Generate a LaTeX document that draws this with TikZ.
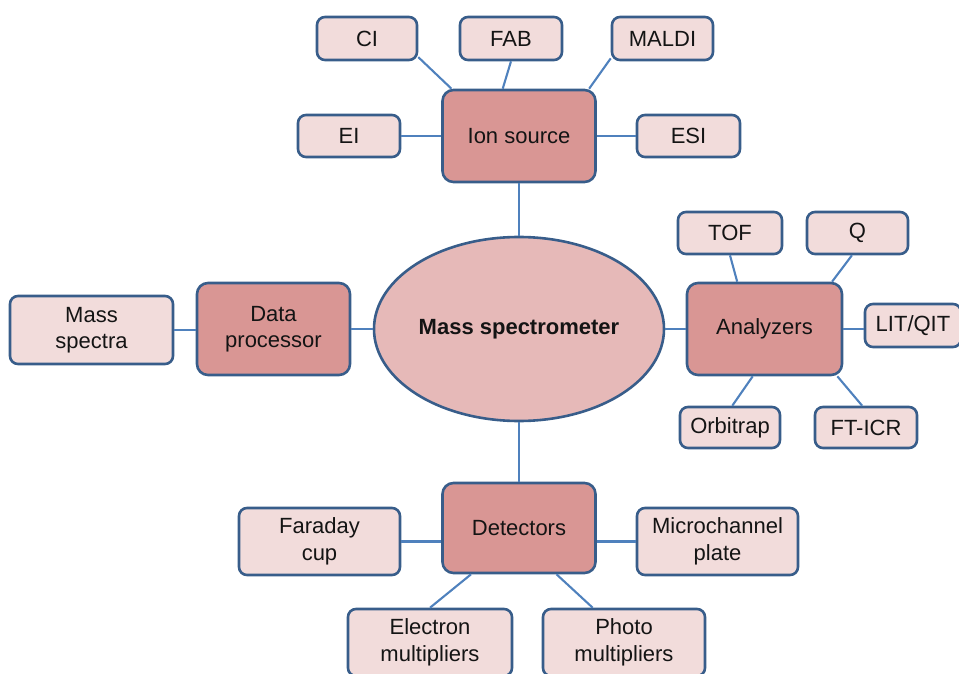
\documentclass[tikz,border=0pt]{standalone}
\usepackage{fontspec}
\setmainfont{Liberation Sans}
\usetikzlibrary{shapes.geometric}
\definecolor{leafpink}{HTML}{F2DCDB}
\definecolor{hubrose}{HTML}{D99694}
\definecolor{corepink}{HTML}{E6B9B8}
\definecolor{rim}{HTML}{385D8A}
\definecolor{wire}{HTML}{4F81BD}
\definecolor{ink}{HTML}{141414}
\tikzset{
  base/.style={draw=rim, line width=2.6pt, text=ink, align=center, inner sep=0pt,
    font=\fontsize{22}{26.5}\selectfont},
  leaf/.style={base, fill=leafpink, rounded corners=8pt},
  hub/.style={base, fill=hubrose, rounded corners=11pt, minimum width=153pt, minimum height=92pt},
  core/.style={base, ellipse, fill=corepink, minimum width=290pt, minimum height=184pt,
    font=\fontsize{22}{26.5}\selectfont\bfseries},
  link/.style={draw=wire, line width=2.1pt},
}
\newcommand{\leafbox}[5]{\node[leaf, minimum width=#3pt, minimum height=#4pt] (#1) at #2 {#5};}
\begin{document}
\begin{tikzpicture}[x=1pt, y=-1pt]
  \useasboundingbox (0,0) rectangle (959,674);
  \clip (0,0) rectangle (959,674);

  % centre
  \node[core] (ms) at (519,329) {Mass spectrometer};

  % hubs
  \node[hub] (ion)  at (519,136)   {Ion source};
  \node[hub] (data) at (273.5,329) {Data\\processor};
  \node[hub, minimum width=155pt] (anal) at (764.5,329) {Analyzers};
  \node[hub, minimum height=90pt] (det)  at (519,528)   {Detectors};

  % ion sources
  \leafbox{ci}{(367,38.5)}{100}{43}{CI}
  \leafbox{fab}{(511,38.5)}{102}{43}{FAB}
  \leafbox{maldi}{(662.5,38.5)}{101}{43}{MALDI}
  \leafbox{ei}{(349,136)}{102}{42}{EI}
  \leafbox{esi}{(688.5,136)}{103}{42}{ESI}

  % output
  \leafbox{spectra}{(91.5,330)}{163}{68}{Mass\\spectra}

  % analyzers
  \leafbox{tof}{(730,233)}{104}{42}{TOF}
  \leafbox{quad}{(857.5,233)}{101}{42}{Q}
  \leafbox{lit}{(913,325.5)}{96}{43}{LIT/QIT}
  \leafbox{orbi}{(730,427.5)}{100}{41}{Orbitrap}
  \leafbox{fticr}{(866,427.5)}{102}{41}{FT-ICR}

  % detectors
  \leafbox{faraday}{(319.5,541.5)}{161}{67}{Faraday\\cup}
  \leafbox{micro}{(717.5,541.5)}{161}{67}{Microchannel\\plate}
  \leafbox{electron}{(430,642.5)}{164}{67}{Electron\\multipliers}
  \leafbox{photo}{(624,642.5)}{162}{67}{Photo\\multipliers}

  % connectors: ion source
  \draw[link] (ci.-20) -- (ion.145);
  \draw[link] (fab.south) -- (ion.109);
  \draw[link] (maldi.201) -- (ion.34);
  \draw[link] (ei.east) -- (ion.west);
  \draw[link] (ion.east) -- (esi.west);
  \draw[link] (ion.south) -- (ms.north);

  % connectors: data path
  \draw[link] (data.east) -- (ms.west);
  \draw[link] (spectra.east) -- (spectra.east -| data.west);

  % connectors: analyzers
  \draw[link] (ms.east) -- (anal.west);
  \draw[link] (anal.east) -- (anal.east -| lit.west);
  \draw[link] (tof.south) -- (anal.120);
  \draw[link] (quad.256) -- (anal.35);
  \draw[link] (anal.256) -- (orbi.84);
  \draw[link] (anal.-33) -- (fticr.100);

  % connectors: detectors
  \draw[link] (ms.south) -- (det.north);
  \draw[link] (faraday.east) -- (faraday.east -| det.west);
  \draw[link] (det.east |- micro.west) -- (micro.west);
  \draw[link] (det.224) -- (electron.north);
  \draw[link] (det.-51) -- (photo.132);
\end{tikzpicture}
\end{document}
